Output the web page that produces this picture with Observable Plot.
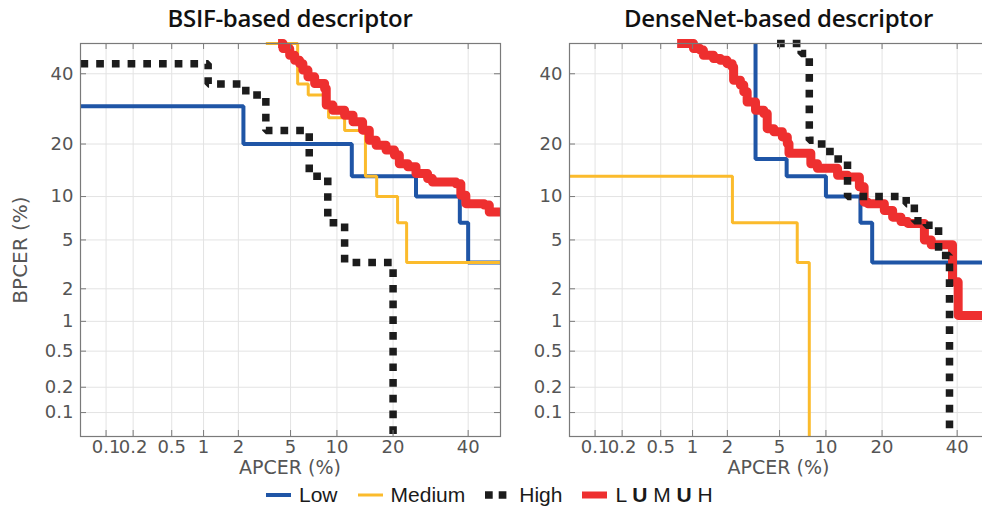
<!DOCTYPE html>
<html>
<head>
<meta charset="utf-8">
<script src="https://cdn.jsdelivr.net/npm/d3@7"></script>
<script src="https://cdn.jsdelivr.net/npm/@observablehq/plot@0.6"></script>
<style>
  html, body { margin: 0; padding: 0; background: #fff; }
  #root { position: relative; width: 982px; height: 510px; overflow: hidden; background: #fff; }
  .panel { position: absolute; top: 0; }
  .panel svg { max-width: none !important; display: block; }
  .title { position: absolute; top: 1px; font-family: "Open Sans", sans-serif; font-weight: 600; font-size: 24px; color: #111; white-space: nowrap; transform: translateX(-50%); letter-spacing: -0.3px; }
  .xlabel { position: absolute; top: 457px; line-height: 20px; font-family: "DejaVu Sans", sans-serif; font-size: 19px; color: #555; white-space: nowrap; transform: translateX(-50%); }
  .ylabel { position: absolute; left: 20px; top: 250px; line-height: 22px; font-family: "DejaVu Sans", sans-serif; font-size: 20px; color: #555; white-space: nowrap; transform: translate(-50%, -50%) rotate(-90deg); }
  #legend { position: absolute; left: 266px; top: 483px; display: flex; align-items: center; font-family: "Liberation Sans", Arial, sans-serif; font-size: 21px; color: #1a1a1a; white-space: nowrap; }
  #legend .item { display: flex; align-items: center; margin-right: 20px; }
  #legend svg { margin-right: 8px; }
</style>
</head>
<body>
<div id="root"></div>
<script>
// ---- data (percent) ----
const xTicks = [0.1, 0.2, 0.5, 1, 2, 5, 10, 20, 40];
const yTicks = [0.1, 0.2, 0.5, 1, 2, 5, 10, 20, 40];
const axisDomain = [0.05, 50];

const titles = ["BSIF-based descriptor", "DenseNet-based descriptor"];
const seriesNames = ["Low", "Medium", "High", "LUMUH"];

// BSIF-based descriptor
const bsifLowApcer  = [0.05, 2.2, 12.2, 25.4, 37.5, 40, 50];
const bsifLowBpcer  = [30, 20, 13.3, 10, 6.67, 3.33, 3.33];
const bsifMedApcer  = [3.3, 5.6, 6.6, 8.9, 11.1, 14.5, 16.6, 21, 23.1, 50];
const bsifMedBpcer  = [50, 36.7, 33.3, 26.7, 23.3, 13.3, 10, 6.67, 3.33, 3.33];
const bsifHighApcer = [0.05, 1.1, 2.3, 3.3, 6.7, 8.8, 11.1, 20];
const bsifHighBpcer = [43.3, 36.7, 33.3, 23.3, 13.3, 6.67, 3.33, 0.05];
const bsifAllApcer  = [4.07, 4.42, 4.93, 5.34, 5.78, 6.08, 6.57, 7.27, 8.41, 8.61,
                       9.46, 11.1, 12.4, 14.0, 15.2, 16.5, 18.5, 20.3, 21.4, 23.4,
                       25.4, 28.4, 29.7, 36.4, 37.8, 39.3, 44.9, 46.5, 50];
const bsifAllBpcer  = [50, 48.3, 46.1, 44.4, 43.3, 41.2, 39.0, 36.9, 35.3, 30.3,
                       28.8, 27.4, 25.6, 23.4, 20.9, 19.7, 18.6, 17.5, 15.7, 15.1,
                       13.8, 12.9, 12.3, 12.0, 10.2, 9.0, 8.8, 7.9, 7.9];

// DenseNet-based descriptor
const denseLowApcer  = [3.34, 3.34, 5.6, 10.0, 15.6, 17.9, 50];
const denseLowBpcer  = [50, 16.7, 13.3, 10, 6.67, 3.33, 3.33];
const denseMedApcer  = [0.05, 2.2, 6.6, 7.9];
const denseMedBpcer  = [13.3, 6.67, 3.33, 0.05];
const denseHighApcer = [4.8, 7.0, 7.9, 8.9, 10.0, 11.2, 13.3, 25.7, 27.8, 31.0, 34.5, 37.7];
const denseHighBpcer = [50, 46.7, 20.9, 20.0, 18.3, 16.7, 10.0, 9.0, 6.9, 6.4, 3.8, 0.05];
const denseAllApcer  = [0.72, 1.02, 1.17, 1.25, 1.53, 1.75, 1.99, 2.19, 2.25, 2.55,
                        2.71, 2.88, 3.34, 3.85, 4.08, 4.56, 5.23, 5.66, 5.81, 8.08,
                        8.88, 11.7, 13.3, 15.4, 16.3, 17.0, 20.5, 22.4, 24.4, 26.1,
                        30.5, 32.4, 38.6, 40.3, 50];
const denseAllBpcer  = [50, 48.3, 47.8, 46.1, 45.0, 44.4, 43.3, 42.2, 37.9, 36.4,
                        34.3, 31.2, 28.8, 27.9, 23.8, 23.0, 21.7, 20.1, 17.9, 15.7,
                        14.8, 13.5, 13.2, 11.5, 9.2, 9.0, 8.1, 7.3, 6.8, 6.6,
                        5.0, 4.6, 2.3, 1.14, 1.14];

// ---- styles ----
const colors = {Low: "#1f55a6", Medium: "#fbbb2c", High: "#1c1c1c", LUMUH: "#ee2f2f"};
const widths = {Low: 4, Medium: 3, High: 7.5, LUMUH: 9};

// inverse normal CDF (probit) for the DET axis transform
function probit(p) {
  const a = [-3.969683028665376e+01, 2.209460984245205e+02, -2.759285104469687e+02, 1.383577518672690e+02, -3.066479806614716e+01, 2.506628277459239e+00];
  const b = [-5.447609879822406e+01, 1.615858368580409e+02, -1.556989798598866e+02, 6.680131188771972e+01, -1.328068155288572e+01];
  const c = [-7.784894002430293e-03, -3.223964580411365e-01, -2.400758277161838e+00, -2.549732539343734e+00, 4.374664141464968e+00, 2.938163982698783e+00];
  const d = [7.784695709041462e-03, 3.224671290700398e-01, 2.445134137142996e+00, 3.754408661907416e+00];
  const pl = 0.02425, ph = 1 - pl;
  let q, r;
  if (p < pl) {
    q = Math.sqrt(-2 * Math.log(p));
    return (((((c[0]*q+c[1])*q+c[2])*q+c[3])*q+c[4])*q+c[5]) / ((((d[0]*q+d[1])*q+d[2])*q+d[3])*q+1);
  }
  if (p <= ph) {
    q = p - 0.5; r = q * q;
    return (((((a[0]*r+a[1])*r+a[2])*r+a[3])*r+a[4])*r+a[5])*q / (((((b[0]*r+b[1])*r+b[2])*r+b[3])*r+b[4])*r+1);
  }
  q = Math.sqrt(-2 * Math.log(1 - p));
  return -(((((c[0]*q+c[1])*q+c[2])*q+c[3])*q+c[4])*q+c[5]) / ((((d[0]*q+d[1])*q+d[2])*q+d[3])*q+1);
}
const P = v => probit(v / 100);

const rows = (apcer, bpcer) => apcer.map((a, i) => ({apcer: a, bpcer: bpcer[i]}));

const panels = [
  {series: {Low: rows(bsifLowApcer, bsifLowBpcer), Medium: rows(bsifMedApcer, bsifMedBpcer),
            High: rows(bsifHighApcer, bsifHighBpcer), LUMUH: rows(bsifAllApcer, bsifAllBpcer)},
   left: 0, marginLeft: 80, width: 510, center: 290},
  {series: {Low: rows(denseLowApcer, denseLowBpcer), Medium: rows(denseMedApcer, denseMedBpcer),
            High: rows(denseHighApcer, denseHighBpcer), LUMUH: rows(denseAllApcer, denseAllBpcer)},
   left: 510, marginLeft: 59, width: 489, center: 778.5}
];

const H = 480, MT = 43, MB = 44, MR = 10;
const root = document.getElementById("root");
const axisColor = "#7a7a7a";
const gridColor = "#e3e3e3";
const drawOrder = ["Low", "Medium", "LUMUH", "High"];

panels.forEach((pn, k) => {
  const FW = pn.width - pn.marginLeft - MR;
  const FH = H - MT - MB;
  const lineMarks = drawOrder.map(name => Plot.line(pn.series[name], {
    x: d => P(d.apcer), y: d => P(d.bpcer), curve: "step-after",
    stroke: colors[name], strokeWidth: widths[name],
    strokeLinejoin: name === "LUMUH" ? "round" : "miter",
    strokeDasharray: name === "High" ? "7.7,8" : null,
    strokeLinecap: "butt"
  }));
  const chart = Plot.plot({
    width: pn.width, height: H,
    marginLeft: pn.marginLeft, marginRight: MR, marginTop: MT, marginBottom: MB,
    x: {type: "linear", domain: axisDomain.map(P), axis: null},
    y: {type: "linear", domain: axisDomain.map(P), axis: null},
    style: {background: "transparent", overflow: "visible", fontFamily: "'DejaVu Sans', sans-serif", maxWidth: "none"},
    marks: [
      Plot.ruleX(xTicks, {x: d => P(d), stroke: gridColor, strokeWidth: 1}),
      Plot.ruleY(yTicks, {y: d => P(d), stroke: gridColor, strokeWidth: 1}),
      ...lineMarks,
      Plot.frame({stroke: axisColor, strokeWidth: 1.2}),
      Plot.tickX(xTicks, {x: d => P(d), insetTop: FH - 6, stroke: axisColor}),
      Plot.tickX(xTicks, {x: d => P(d), insetBottom: FH - 6, stroke: axisColor}),
      Plot.tickY(yTicks, {y: d => P(d), insetRight: FW - 6, stroke: axisColor}),
      Plot.tickY(yTicks, {y: d => P(d), insetLeft: FW - 6, stroke: axisColor}),
      Plot.text(xTicks, {x: d => P(d), frameAnchor: "bottom", lineAnchor: "top", dy: 4,
        text: d => String(d), fill: "#555", fontSize: 18}),
      Plot.text(yTicks, {y: d => P(d), frameAnchor: "left", textAnchor: "end", dx: -7,
        text: d => String(d), fill: "#555", fontSize: 18})
    ]
  });
  const wrap = document.createElement("div");
  wrap.className = "panel";
  wrap.style.left = pn.left + "px";
  wrap.style.width = pn.width + "px";
  wrap.appendChild(chart);
  root.appendChild(wrap);

  const t = document.createElement("div");
  t.className = "title";
  t.style.left = pn.center + "px";
  t.textContent = titles[k];
  root.appendChild(t);

  const xl = document.createElement("div");
  xl.className = "xlabel";
  xl.style.left = pn.center + "px";
  xl.textContent = "APCER (%)";
  root.appendChild(xl);
});

const yl = document.createElement("div");
yl.className = "ylabel";
yl.textContent = "BPCER (%)";
root.appendChild(yl);

// legend
const legend = document.createElement("div");
legend.id = "legend";
const legendLabels = {Low: "Low", Medium: "Medium", High: "High",
  LUMUH: 'L <b>U</b> M <b>U</b> H'};
seriesNames.forEach(name => {
  const item = document.createElement("div");
  item.className = "item";
  const w = name === "High" ? 26 : 25;
  const dash = name === "High" ? ' stroke-dasharray="7.7,6"' : "";
  item.innerHTML = `<svg width="${w}" height="14"><line x1="0" x2="${w}" y1="7" y2="7" stroke="${colors[name]}" stroke-width="${name === 'LUMUH' ? 7 : widths[name]}"${dash}/></svg><span>${legendLabels[name]}</span>`;
  legend.appendChild(item);
});
root.appendChild(legend);
</script>
</body>
</html>
